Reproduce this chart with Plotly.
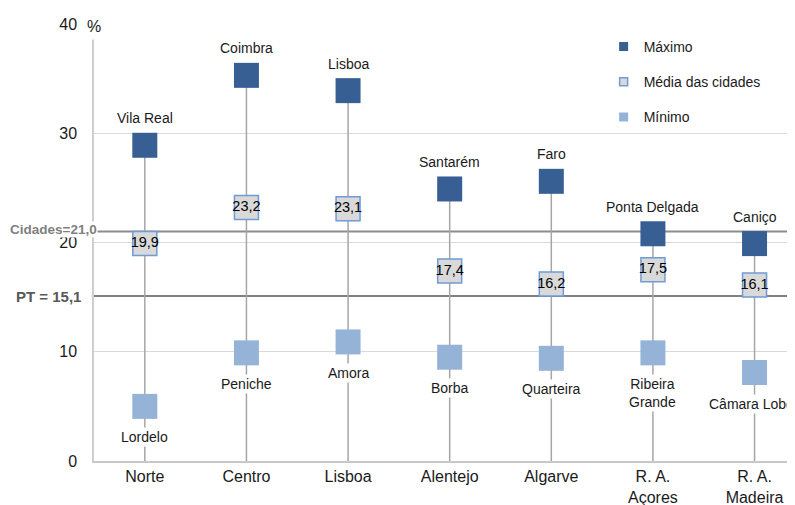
import plotly.graph_objects as go

regions = ["Norte", "Centro", "Lisboa", "Alentejo", "Algarve", "R. A.<br>Açores", "R. A.<br>Madeira"]
max_values = [28.9, 35.3, 33.9, 24.9, 25.6, 20.8, 19.9]
max_cities = ["Vila Real", "Coimbra", "Lisboa", "Santarém", "Faro", "Ponta Delgada", "Caniço"]
mean_values = [19.9, 23.2, 23.1, 17.4, 16.2, 17.5, 16.1]
min_values = [5.0, 9.9, 10.9, 9.5, 9.4, 9.9, 8.1]
min_cities = ["Lordelo", "Peniche", "Amora", "Borba", "Quarteira", "Ribeira<br>Grande", "Câmara Lobos"]
cidades_ref = 21.0
pt_ref = 15.1
y_ticks = [0, 10, 20, 30, 40]

FONT = "Liberation Sans"
C_MAX = "#375f93"
C_MEAN_FILL = "#d9d9d9"
C_MEAN_LINE = "#6f9bd6"
C_MIN = "#95b3d7"
TXT = "#1a1a1a"

fig = go.Figure()

# drop lines from 0 to the maximum
lx, ly = [], []
for r, m in zip(regions, max_values):
    lx += [r, r, None]
    ly += [0, m, None]
fig.add_trace(go.Scatter(x=lx, y=ly, mode="lines", line=dict(color="#a6a6a6", width=1.5),
                         showlegend=False, hoverinfo="skip"))

fig.add_trace(go.Scatter(x=regions, y=max_values, mode="markers",
                         marker=dict(symbol="square", size=25, color=C_MAX, line=dict(width=0)),
                         showlegend=False))
fig.add_trace(go.Scatter(x=regions, y=min_values, mode="markers",
                         marker=dict(symbol="square", size=25, color=C_MIN, line=dict(width=0)),
                         showlegend=False))
fig.add_trace(go.Scatter(x=regions, y=mean_values, mode="markers+text",
                         marker=dict(symbol="square", size=24, color=C_MEAN_FILL,
                                     line=dict(width=1.5, color=C_MEAN_LINE)),
                         text=[f"{v:.1f}".replace(".", ",") for v in mean_values],
                         textposition="middle center",
                         textfont=dict(family=FONT, size=14.5, color="#000"),
                         showlegend=False))

# legend entries
fig.add_trace(go.Scatter(x=[None], y=[None], mode="markers", name="Máximo", legendgroup="a",
                         marker=dict(symbol="square", size=9, color=C_MAX)))
fig.add_trace(go.Scatter(x=[None], y=[None], mode="markers", name="Média das cidades", legendgroup="b",
                         marker=dict(symbol="square", size=8, color=C_MEAN_FILL,
                                     line=dict(width=1.5, color=C_MEAN_LINE))))
fig.add_trace(go.Scatter(x=[None], y=[None], mode="markers", name="Mínimo", legendgroup="c",
                         marker=dict(symbol="square", size=9, color=C_MIN)))

annotations = []
for r, m, c in zip(regions, max_values, max_cities):
    annotations.append(dict(x=r, y=m, text=c, showarrow=False, yanchor="bottom", yshift=17,
                            font=dict(family=FONT, size=14, color=TXT)))
for r, m, c in zip(regions, min_values, min_cities):
    annotations.append(dict(x=r, y=m, text=c, showarrow=False, yanchor="top", yshift=-21,
                            bgcolor="white", borderpad=1,
                            font=dict(family=FONT, size=14, color=TXT)))

annotations.append(dict(xref="paper", x=0, y=cidades_ref, text="<b>Cidades=21,0</b>", showarrow=False,
                        xanchor="right", xshift=4, yshift=2, bgcolor="white", borderpad=0,
                        font=dict(family=FONT, size=13.5, color="#808080")))
annotations.append(dict(xref="paper", x=0, y=pt_ref, text="<b>PT = 15,1</b>", showarrow=False,
                        xanchor="right", xshift=-11, font=dict(family=FONT, size=15, color="#595959")))
annotations.append(dict(xref="paper", x=0, y=40, text="%", showarrow=False, xanchor="center",
                        yanchor="middle", yshift=-2, width=22, height=24, bgcolor="white",
                        font=dict(family=FONT, size=16, color=TXT)))

shapes = [
    dict(type="line", xref="paper", x0=0, x1=1, y0=cidades_ref, y1=cidades_ref,
         line=dict(color="#8c8c8c", width=2), layer="below"),
    dict(type="line", xref="paper", x0=-0.003, x1=1, y0=pt_ref, y1=pt_ref,
         line=dict(color="#808080", width=2), layer="below"),
]

fig.update_layout(
    width=787, height=497,
    margin=dict(l=86, r=0, t=16, b=44),
    paper_bgcolor="white", plot_bgcolor="white",
    font=dict(family=FONT, size=16, color=TXT),
    annotations=annotations, shapes=shapes,
    legend=dict(x=0.727, y=0.984, xanchor="left", yanchor="top", bgcolor="white",
                font=dict(family=FONT, size=14, color=TXT), tracegroupgap=14,
                traceorder="grouped"),
    xaxis=dict(type="category", categoryorder="array", categoryarray=regions,
               range=[-0.5, 6.398], showgrid=False, showline=True, linecolor="#c8c8c8",
               linewidth=2, ticks="", tickfont=dict(family=FONT, size=16, color=TXT),
               zeroline=False, automargin=False),
    yaxis=dict(range=[0, 40], tickvals=y_ticks, ticktext=[str(v) for v in y_ticks],
               showgrid=True, gridcolor="#d9d9d9", gridwidth=1, showline=True,
               linecolor="#cfcfcf", linewidth=1.5, ticks="", ticklabelstandoff=12,
               tickfont=dict(family=FONT, size=16, color=TXT), zeroline=False, automargin=False),
)

fig.write_html("out.html")
